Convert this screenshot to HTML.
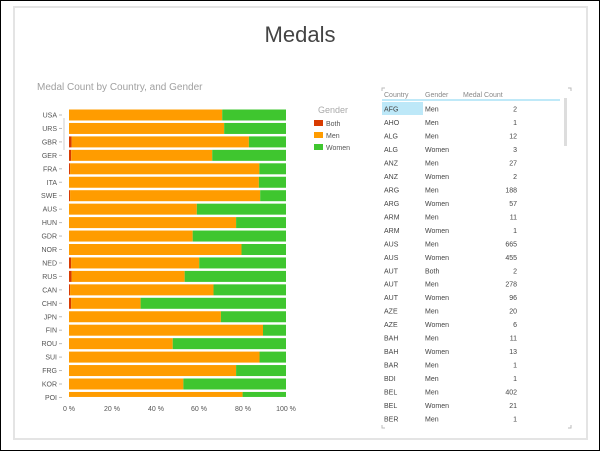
<!DOCTYPE html>
<html><head><style>
body{margin:0;width:600px;height:451px;background:#fff;font-family:"Liberation Sans",sans-serif;position:relative;overflow:hidden}
.frame{position:absolute;left:0;top:0;width:598px;height:449px;border:1px solid #000}
.panel{position:absolute;left:13px;top:6px;width:571px;height:430px;border:2px solid #e4e4e4;background:#fff}
.t{position:absolute;white-space:nowrap}
.row{position:absolute;font-size:7px;color:#444}
</style></head><body>
<div class="frame"></div>
<div class="panel"></div>
<div class="t" style="left:0;width:600px;text-align:center;top:22px;font-size:22px;color:#444">Medals</div>
<div class="t" style="left:37px;top:82px;font-size:10px;color:#a0a0a0">Medal Count by Country, and Gender</div>
<svg style="position:absolute;left:0;top:0" width="600" height="451" font-family="Liberation Sans, sans-serif">
<g id="bars"></g>
<line x1="64" y1="118" x2="64" y2="150" stroke="#ccc" stroke-width="1"/>
<g font-size="7" fill="#555" text-anchor="middle">
<text x="69" y="411">0 %</text><text x="112" y="411">20 %</text><text x="156" y="411">40 %</text><text x="199" y="411">60 %</text><text x="243" y="411">80 %</text><text x="286" y="411">100 %</text>
</g>
<text x="318" y="113" font-size="9" fill="#aaa">Gender</text>
<rect x="314" y="120" width="9" height="6" fill="#d83b01"/><text x="326" y="126" font-size="7" fill="#555">Both</text>
<rect x="314" y="132" width="9" height="6" fill="#ff9c00"/><text x="326" y="138" font-size="7" fill="#555">Men</text>
<rect x="314" y="144" width="9" height="6" fill="#3fc62f"/><text x="326" y="150" font-size="7" fill="#555">Women</text>
<!-- table -->
<path d="M382 91 V88 H385 M568 88 H571 V91 M382 425 V428 H385 M568 428 H571 V425" stroke="#bbb" fill="none"/>
<g font-size="7" fill="#888"><text x="384" y="97">Country</text><text x="425" y="97">Gender</text><text x="463" y="97">Medal Count</text></g>
<line x1="382" y1="100" x2="560" y2="100" stroke="#7fd3f0" stroke-width="1"/>
<rect x="382" y="102" width="41" height="13" fill="#bde8f8"/>
<rect x="564" y="98" width="3" height="48" fill="#ddd"/>
<g id="tbl" font-size="7" fill="#444"></g>
</svg>
<script>
var c=["USA","URS","GBR","GER","FRA","ITA","SWE","AUS","HUN","GDR","NOR","NED","RUS","CAN","CHN","JPN","FIN","ROU","SUI","FRG","KOR","POI"];
var m=[.706,.715,.829,.66,.877,.875,.881,.589,.77,.57,.795,.60,.533,.666,.33,.70,.894,.478,.878,.77,.527,.80];
var b=[0,0,.012,.01,.005,0,.005,0,0,0,0,.01,.012,.005,.01,0,0,0,0,0,0,0];
var s="",x0=69,w=217;
for(var i=0;i<c.length;i++){var y=109.5+i*13.45,h=11;if(i==21)h=5;
s+='<text x="57" y="'+(y+8)+'" font-size="7" fill="#555" text-anchor="end">'+c[i]+'</text>';
s+='<line x1="59" y1="'+(y+5.5)+'" x2="62" y2="'+(y+5.5)+'" stroke="#bbb"/>';
var bw=b[i]*w,mw=(m[i]-b[i])*w;
s+='<rect x="'+x0+'" y="'+y+'" width="'+bw+'" height="'+h+'" fill="#d83b01"/>';
s+='<rect x="'+(x0+bw)+'" y="'+y+'" width="'+mw+'" height="'+h+'" fill="#ff9c00"/>';
s+='<rect x="'+(x0+bw+mw)+'" y="'+y+'" width="'+(w-bw-mw)+'" height="'+h+'" fill="#3fc62f"/>';}
document.getElementById("bars").innerHTML=s;
var t=[["AFG","Men",2],["AHO","Men",1],["ALG","Men",12],["ALG","Women",3],["ANZ","Men",27],["ANZ","Women",2],["ARG","Men",188],["ARG","Women",57],["ARM","Men",11],["ARM","Women",1],["AUS","Men",665],["AUS","Women",455],["AUT","Both",2],["AUT","Men",278],["AUT","Women",96],["AZE","Men",20],["AZE","Women",6],["BAH","Men",11],["BAH","Women",13],["BAR","Men",1],["BDI","Men",1],["BEL","Men",402],["BEL","Women",21],["BER","Men",1]];
s="";for(i=0;i<t.length;i++){var y=111.5+i*13.48;
s+='<text x="384" y="'+y+'">'+t[i][0]+'</text><text x="425" y="'+y+'">'+t[i][1]+'</text><text x="517" y="'+y+'" text-anchor="end">'+t[i][2]+'</text>';}
document.getElementById("tbl").innerHTML=s;
</script>
</body></html>
